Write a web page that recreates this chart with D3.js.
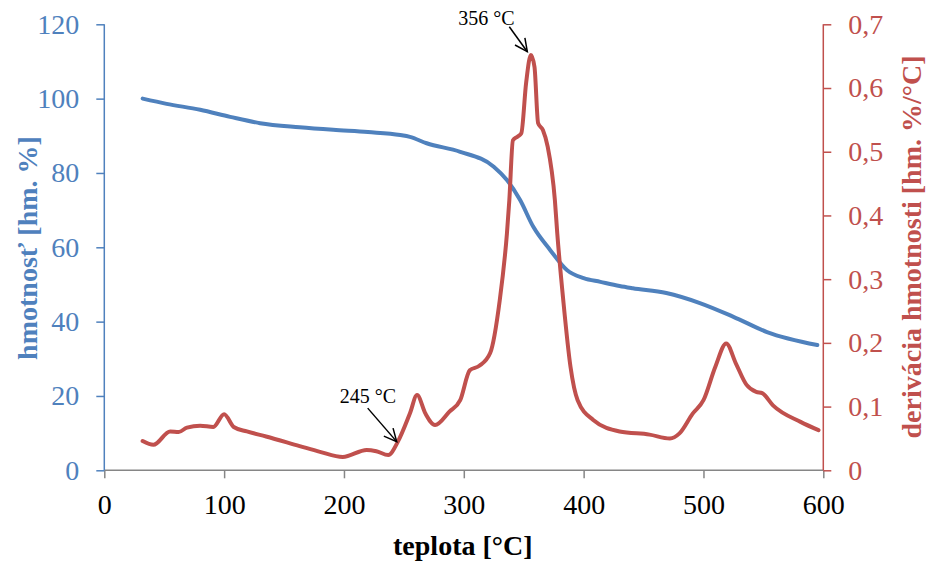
<!DOCTYPE html>
<html><head><meta charset="utf-8">
<script src="https://cdn.jsdelivr.net/npm/d3@7"></script>
<style>
body{margin:0;background:#fff;}
svg{display:block;}
svg text{font-family:"Liberation Serif","Times New Roman",serif !important;}
</style></head>
<body><svg id="c" width="928" height="563"></svg>
<script>
// ---- data ----
const massTemp = [32, 52, 80, 105, 130, 163, 191, 220, 247, 255, 269, 297, 325, 336, 347, 358, 372, 386, 400, 414, 430, 441, 469, 497, 525, 553, 595];
const massValues = [100, 98.6, 97.0, 95.1, 93.4, 92.3, 91.6, 91.0, 90.2, 89.7, 88.0, 85.7, 81.7, 78.1, 72.7, 65.5, 59.3, 53.9, 51.7, 50.7, 49.6, 49.0, 47.7, 45.0, 41.3, 37.2, 33.7];
const derivTemp = [32, 41, 55, 62, 69, 80, 91, 100, 108, 119, 135, 163, 180, 199, 219, 227, 237, 245, 255, 261, 268, 276, 288, 297, 305, 313, 322, 330, 336, 338, 341, 345, 348, 352, 356, 359, 362, 366, 370, 376, 378, 383, 389, 395, 408, 430, 455, 472, 480, 491, 500, 510, 519, 527, 536, 544, 549, 558, 581, 596];
const derivValues = [0.046, 0.040, 0.061, 0.060, 0.067, 0.070, 0.068, 0.088, 0.068, 0.061, 0.053, 0.038, 0.029, 0.021, 0.032, 0.030, 0.024, 0.045, 0.089, 0.118, 0.089, 0.071, 0.092, 0.110, 0.157, 0.164, 0.184, 0.267, 0.372, 0.424, 0.518, 0.524, 0.529, 0.608, 0.652, 0.633, 0.545, 0.534, 0.508, 0.424, 0.372, 0.267, 0.163, 0.110, 0.079, 0.061, 0.056, 0.050, 0.058, 0.089, 0.110, 0.163, 0.199, 0.168, 0.134, 0.123, 0.121, 0.102, 0.076, 0.063];
const xTicks = [0, 100, 200, 300, 400, 500, 600];
const leftTicks = [0, 20, 40, 60, 80, 100, 120];
const rightTicks = [0, 0.1, 0.2, 0.3, 0.4, 0.5, 0.6, 0.7];
const annotLabels = ["356 °C", "245 °C"];
const annotTemp = [353, 244];
const annotDeriv = [0.657, 0.045];

const blue = "#4F81BD", red = "#C0504D";
const serif = '"Liberation Serif","Times New Roman",serif';
const svg = d3.select("#c");
const L = 104.3, R = 823.3, T = 24.3, B = 470.3;
const x = d3.scaleLinear().domain([0, 600]).range([L, R]);
const yL = d3.scaleLinear().domain([0, 120]).range([B, T]);
const yR = d3.scaleLinear().domain([0, 0.7]).range([B, T]);

// axes
const gx = svg.append("g").attr("transform", `translate(0,${B})`)
  .call(d3.axisBottom(x).tickValues(xTicks).tickSize(8).tickPadding(15.8).tickFormat(d3.format("d")));
gx.selectAll("path,line").attr("stroke", "#868686").attr("stroke-width", 1.5);
gx.selectAll("text").attr("font-size", 28).attr("fill", "#000");

const gl = svg.append("g").attr("transform", `translate(${L},0)`)
  .call(d3.axisLeft(yL).tickValues(leftTicks).tickSize(8).tickPadding(17).tickFormat(d3.format("d")));
gl.selectAll("path,line").attr("stroke", blue).attr("stroke-width", 1.5);
gl.selectAll("text").attr("font-size", 28).attr("fill", blue);

const gr = svg.append("g").attr("transform", `translate(${R},0)`)
  .call(d3.axisRight(yR).tickValues(rightTicks).tickSize(8).tickPadding(17)
    .tickFormat(d => d === 0 ? "0" : d3.format(".1f")(d).replace(".", ",")));
gr.selectAll("path,line").attr("stroke", red).attr("stroke-width", 1.5);
gr.selectAll("text").attr("font-size", 28).attr("fill", red);
[gx, gl, gr].forEach(g => { g.attr("font-family", serif).selectAll("text").style("font-family", serif); });
gx.select(".domain").attr("d", `M${L},0H${R}`);
gl.select(".domain").attr("d", `M0,${T}V${B}`);
gr.select(".domain").attr("d", `M0,${T}V${B}`);

// lines
const massData = massTemp.map((t, i) => [t, massValues[i]]);
const derivData = derivTemp.map((t, i) => [t, derivValues[i]]);
svg.append("path").datum(massData)
  .attr("d", d3.line().x(d => x(d[0])).y(d => yL(d[1])).curve(d3.curveMonotoneX))
  .attr("fill", "none").attr("stroke", blue).attr("stroke-width", 4).attr("stroke-linecap", "round");
svg.append("path").datum(derivData)
  .attr("d", d3.line().x(d => x(d[0])).y(d => yR(d[1])).curve(d3.curveMonotoneX))
  .attr("fill", "none").attr("stroke", red).attr("stroke-width", 4).attr("stroke-linecap", "round").attr("stroke-linejoin", "round");

// annotations
const offsets = [[-18, -25], [-29, -33.5]];
const textOff = [[-51, -2], [-28, -5]];
annotLabels.forEach((lab, i) => {
  const tx = x(annotTemp[i]), ty = yR(annotDeriv[i]);
  const sx = tx + offsets[i][0], sy = ty + offsets[i][1];
  svg.append("line").attr("x1", sx).attr("y1", sy).attr("x2", tx).attr("y2", ty)
    .attr("stroke", "#000").attr("stroke-width", 1.5);
  const ang = Math.atan2(ty - sy, tx - sx);
  const hl = 14, ha = 0.45;
  const p1 = [tx - hl * Math.cos(ang - ha), ty - hl * Math.sin(ang - ha)];
  const p2 = [tx - hl * Math.cos(ang + ha), ty - hl * Math.sin(ang + ha)];
  svg.append("path").attr("d", `M${p1[0]},${p1[1]}L${tx},${ty}L${p2[0]},${p2[1]}`)
    .attr("fill", "none").attr("stroke", "#000").attr("stroke-width", 1.5);
  svg.append("text").attr("x", sx + textOff[i][0]).attr("y", sy + textOff[i][1])
    .attr("font-size", 20).attr("fill", "#000").text(lab);
});

// axis titles
svg.append("text").attr("x", (L + R) / 2 - 1).attr("y", 555).attr("text-anchor", "middle")
  .attr("font-size", 28).attr("font-weight", "bold").attr("fill", "#000").text("teplota [°C]");
svg.append("text").attr("transform", "translate(37,248) rotate(-90)").attr("text-anchor", "middle")
  .attr("font-size", 28).attr("font-weight", "bold").attr("fill", blue).text("hmotnosť [hm. %]");
svg.append("text").attr("transform", "translate(921,247) rotate(-90)").attr("text-anchor", "middle")
  .attr("font-size", 28).attr("font-weight", "bold").attr("fill", red).text("derivácia hmotnosti [hm. %/°C]");
</script></body></html>
